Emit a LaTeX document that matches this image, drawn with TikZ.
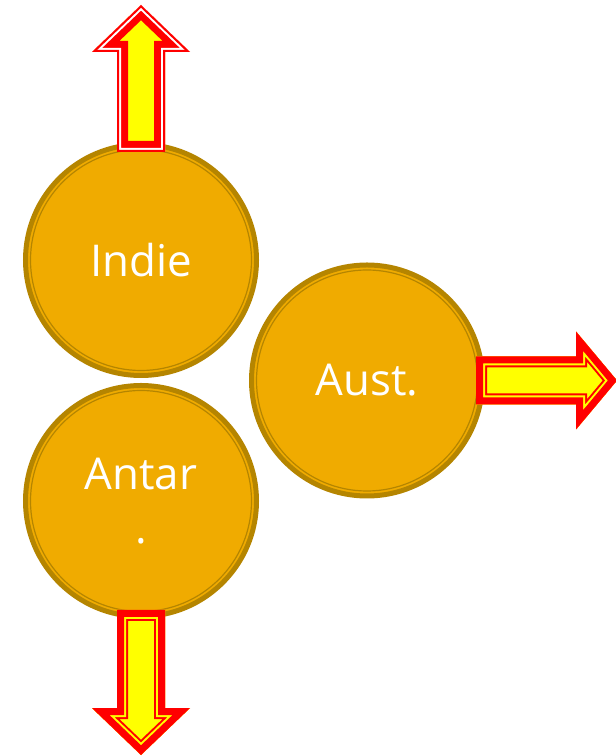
\documentclass[tikz,border=0pt]{standalone}
\usepackage{fontspec}
\usepackage{tikz}
\newfontfamily\discfont{Open Sans}
\definecolor{discfill}{HTML}{F0AB00}
\definecolor{discrim}{HTML}{B58500}
\definecolor{arrowred}{HTML}{FF0000}
\definecolor{arrowfill}{HTML}{FFFF00}
\tikzset{
  disc/.style={circle, draw=discrim, line width=5bp, fill=discfill,
    minimum size=231bp, inner sep=0pt, text=white, align=center,
    font={\discfont\fontsize{44}{55}\selectfont}},
  arrowband/.style={line join=miter, miter limit=10},
}
% block arrow along +x: from, tip, head length, shaft half width, head half width
\newcommand{\blockpath}[5]{(#1,-#4) -- (#2-#3,-#4) -- (#2-#3,-#5) -- (#2,0)
  -- (#2-#3,#5) -- (#2-#3,#4) -- (#1,#4) -- cycle}

\begin{document}
\begin{tikzpicture}[x=1bp, y=1bp]
\useasboundingbox (0,0) rectangle (616,756);

% Discs
\node[disc] (indie) at (141,496) {Indie};
\node[disc] (antar) at (141,255) {Antar\\.};
\node[disc] (aust) at (367,375.5) {Aust.};
\foreach \n in {indie,antar,aust} {
  \draw[discrim, line width=1.2bp] (\n.center) circle (110.5);
}

% Block arrows (outer band, gap, inner band)
\foreach \n/\ang/\from/\to/\head/\gap/\wb/\wc in
    {indie.north/90/-10/137/47/white/8/4,
     aust.east/0/-9/132/41/arrowfill/18/14,
     antar.south/-90/-9/136/47/arrowfill/18/14} {
  \begin{scope}[shift={(\n)}, rotate=\ang]
    \clip \blockpath{\from}{\to}{\head}{24}{49};
    \fill[arrowfill] \blockpath{\from}{\to}{\head}{24}{49};
    \draw[arrowband, arrowred, line width=22bp] \blockpath{\from}{\to}{\head}{24}{49};
    \draw[arrowband, \gap, line width=\wb bp] \blockpath{\from}{\to}{\head}{24}{49};
    \draw[arrowband, arrowred, line width=\wc bp] \blockpath{\from}{\to}{\head}{24}{49};
  \end{scope}
}

\end{tikzpicture}
\end{document}
